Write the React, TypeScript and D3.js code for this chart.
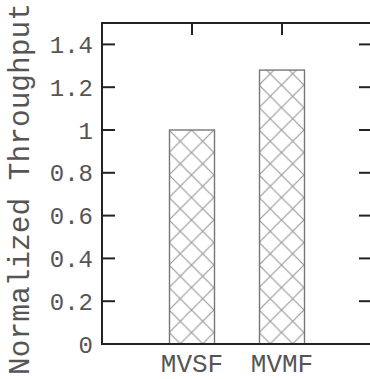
import React from 'react';
import * as d3 from 'd3';

const categories = ['MVSF', 'MVMF'];
const throughput = [1.0, 1.28];
const yTicks = [0, 0.2, 0.4, 0.6, 0.8, 1, 1.2, 1.4];

const App = () => {
  const W = 370;
  const H = 379;
  const left = 102;
  const right = 372;
  const top = 23;
  const bottom = 344;

  const x = d3.scaleLinear().domain([0, 3]).range([left, right]);
  const y = d3.scaleLinear().domain([0, 1.5]).range([bottom, top]);
  const barW = 45;
  const font = "'Liberation Mono', 'Courier New', monospace";

  return (
    <svg width={W} height={H} style={{ position: 'absolute', left: 0, top: 0 }}>
      <defs>
        <pattern id="hatch" patternUnits="userSpaceOnUse" width={22.5} height={22.5} x={169} y={130}>
          <path d="M0,0 L22.5,22.5 M22.5,0 L0,22.5" stroke="#999" strokeWidth={1.2} />
        </pattern>
      </defs>
      <rect width={W} height={H} fill="#fff" />

      {/* bars */}
      {throughput.map((v, i) => (
        <g key={categories[i]}>
          <rect x={x(i + 1) - barW / 2} y={y(v)} width={barW} height={bottom - y(v)} fill="#fff" />
          <rect x={x(i + 1) - barW / 2} y={y(v)} width={barW} height={bottom - y(v)}
            fill="url(#hatch)" stroke="#777" strokeWidth={1.4} />
        </g>
      ))}

      {/* y ticks + labels */}
      {yTicks.map(t => (
        <g key={t}>
          {t > 0 && <line x1={left} x2={left + 13} y1={y(t)} y2={y(t)} stroke="#222" strokeWidth={2} />}
          {t > 0 && <line x1={right - 13} x2={right} y1={y(t)} y2={y(t)} stroke="#222" strokeWidth={2} />}
          <text x={93} y={y(t)} dy="0.36em" textAnchor="end" fontFamily={font} fontSize={24} fill="#555">
            {d3.format('~g')(t)}
          </text>
        </g>
      ))}

      {/* top ticks */}
      {categories.map((c, i) => (
        <line key={c} x1={x(i + 1)} x2={x(i + 1)} y1={top} y2={top + 12} stroke="#222" strokeWidth={2} />
      ))}

      {/* frame */}
      <rect x={left} y={top} width={right - left} height={bottom - top} fill="none" stroke="#222" strokeWidth={2} />

      {/* x labels */}
      {categories.map((c, i) => (
        <text key={c} x={x(i + 1)} y={372} textAnchor="middle" fontFamily={font} fontSize={26} fill="#555">
          {c}
        </text>
      ))}

      <text transform={`translate(29,189) rotate(-90)`} textAnchor="middle" fontFamily={font} fontSize={29.5} fill="#555">
        Normalized Throughput
      </text>
    </svg>
  );
};

export default App;
